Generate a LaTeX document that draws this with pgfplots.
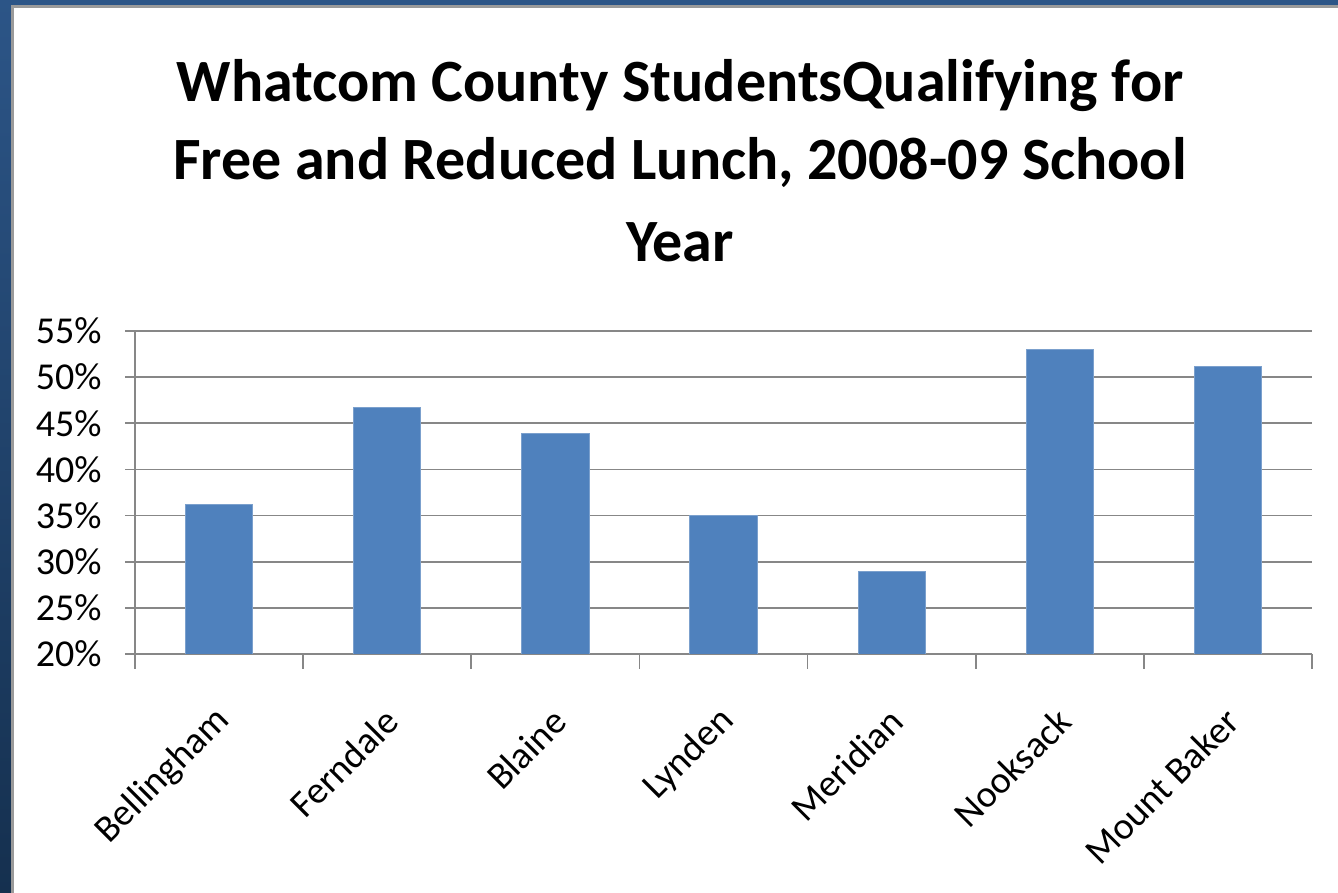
\documentclass[border=0pt]{standalone}
\usepackage{fontspec}
\setmainfont{Carlito}
\usepackage{pgfplots}
\pgfplotsset{compat=1.18}

\definecolor{barblue}{HTML}{4F81BD}
\definecolor{gridgray}{HTML}{878787}
\definecolor{bgtop}{HTML}{2C5587}
\definecolor{bgbot}{HTML}{15304F}
\definecolor{framegray}{HTML}{9A9A9A}

\begin{document}
\begin{tikzpicture}
\useasboundingbox (0,0) rectangle (669pt,446.5pt);
% slide background and white chart panel
\shade[top color=bgtop, bottom color=bgbot] (0,0) rectangle (669pt,446.5pt);
\fill[framegray] (5.5pt,0) rectangle (669pt,444pt);
\fill[white] (7pt,0) rectangle (669pt,442.5pt);

% title, one node per line
\begin{scope}[every node/.style={anchor=base, inner sep=0pt, font=\fontsize{30}{36}\selectfont\bfseries}]
\node at (340pt,395.5pt) {Whatcom County StudentsQualifying for};
\node at (340pt,356.5pt) {Free and Reduced Lunch, 2008-09 School};
\node at (340pt,315.5pt) {Year};
\end{scope}

\begin{axis}[
    at={(67.5pt,119.5pt)}, anchor=south west,
    scale only axis, width=588.5pt, height=161.5pt,
    xmin=0.5, xmax=7.5, ymin=20, ymax=55,
    axis x line*=bottom, axis y line*=left,
    axis line style={gridgray, line width=0.8pt, -},
    ymajorgrids, grid style={gridgray, line width=0.8pt},
    tick align=outside, major tick length=5pt,
    tick style={gridgray, line width=0.8pt},
    ytick={20,25,...,55},
    yticklabel={\pgfmathprintnumber[assume math mode=true]{\tick}\%},
    yticklabel style={inner sep=0pt, xshift=-11.5pt},
    xtick={1,...,7},
    xticklabels={Bellingham,Ferndale,Blaine,Lynden,Meridian,Nooksack,Mount Baker},
    xtick style={draw=none},
    extra x ticks={0.5,1.5,...,7.5},
    extra x tick labels={},
    extra x tick style={major tick length=7.5pt, xtick style={draw=gridgray}},
    tick label style={font=\fontsize{19}{23}\selectfont},
    xticklabel style={xshift=2.5pt, yshift=-25.5pt, rotate=45, anchor=east, inner sep=0pt},
]
\addplot[ybar, bar width=0.4, fill=barblue, draw=barblue!75!white, line width=0.4pt]
    coordinates {(1,36.2) (2,46.7) (3,43.9) (4,35.0) (5,28.9) (6,53.0) (7,51.2)};
\end{axis}
\end{tikzpicture}
\end{document}
